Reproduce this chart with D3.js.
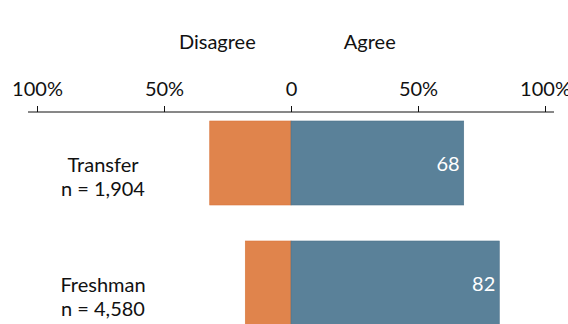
<!DOCTYPE html>
<html>
<head>
<meta charset="utf-8">
<script src="https://cdn.jsdelivr.net/npm/d3@7"></script>
<style>
  html, body { margin: 0; padding: 0; background: #ffffff; }
  svg { display: block; font-family: Lato, "Open Sans", sans-serif; }
</style>
</head>
<body>
<svg id="chart" width="568" height="324"></svg>
<script>
// Survey groups and their sample sizes
const groups = ["Transfer", "Freshman"];
const sampleSizes = ["1,904", "4,580"];
// Share of respondents (%) on each side of the scale
const disagreeValues = [32, 18];
const agreeValues = [68, 82];
// Axis tick positions and the side headings
const tickValues = [-100, -50, 0, 50, 100];
const sideLabels = ["Disagree", "Agree"];

const orange = "#e0844c";
const blue = "#5a8199";

const svg = d3.select("#chart");

const x = d3.scaleLinear().domain([-100, 100]).range([37, 545]);
const y = d3.scaleBand().domain(groups).range([103, 343])
  .paddingInner(0.3).paddingOuter(0.15);

// Side headings above the axis
svg.append("g").selectAll("text")
  .data(sideLabels)
  .join("text")
  .attr("x", (d, i) => i === 0 ? x(-29) : x(31))
  .attr("y", 49)
  .attr("text-anchor", "middle")
  .attr("font-size", 20)
  .attr("fill", "#111")
  .text(d => d);

// Percentage axis along the top
const axis = d3.axisTop(x)
  .tickValues(tickValues)
  .tickSize(6)
  .tickSizeOuter(0)
  .tickPadding(10)
  .tickFormat(d => d === 0 ? "0" : Math.abs(d) + "%");

const axisG = svg.append("g")
  .attr("transform", "translate(0,112)")
  .call(axis);
axisG.select(".domain").remove();
axisG.append("line")
  .attr("x1", 28).attr("x2", 554)
  .attr("stroke", "#111").attr("stroke-width", 1);
axisG.selectAll(".tick line").attr("stroke", "#111");
axisG.selectAll(".tick text")
  .attr("font-size", 20)
  .attr("font-family", "Lato, 'Open Sans', sans-serif")
  .attr("fill", "#111");

// Diverging bars
const rows = groups.map((g, i) => ({
  group: g, n: sampleSizes[i], disagree: disagreeValues[i], agree: agreeValues[i]
}));

const barG = svg.append("g");
barG.selectAll("rect.disagree")
  .data(rows)
  .join("rect")
  .attr("class", "disagree")
  .attr("x", d => x(-d.disagree))
  .attr("y", d => y(d.group))
  .attr("width", d => x(0) - x(-d.disagree))
  .attr("height", y.bandwidth())
  .attr("fill", orange)
  .attr("stroke", "#d9773c")
  .attr("stroke-width", 0.6);

barG.selectAll("rect.agree")
  .data(rows)
  .join("rect")
  .attr("class", "agree")
  .attr("x", x(0))
  .attr("y", d => y(d.group))
  .attr("width", d => x(d.agree) - x(0))
  .attr("height", y.bandwidth())
  .attr("fill", blue)
  .attr("stroke", "#4d738b")
  .attr("stroke-width", 0.6);

// Agree values printed inside the bar ends
barG.selectAll("text.value")
  .data(rows)
  .join("text")
  .attr("class", "value")
  .attr("x", d => x(d.agree) - 4)
  .attr("y", d => y(d.group) + y.bandwidth() / 2 + 8)
  .attr("text-anchor", "end")
  .attr("font-size", 20)
  .attr("fill", "#ffffff")
  .text(d => d.agree);

// Group names with sample sizes
const labelG = svg.append("g");
labelG.selectAll("text.group")
  .data(rows)
  .join("text")
  .attr("class", "group")
  .attr("x", 103)
  .attr("y", d => y(d.group) + 51)
  .attr("text-anchor", "middle")
  .attr("font-size", 20)
  .attr("fill", "#111")
  .text(d => d.group);

labelG.selectAll("text.n")
  .data(rows)
  .join("text")
  .attr("class", "n")
  .attr("x", 103)
  .attr("y", d => y(d.group) + 75)
  .attr("text-anchor", "middle")
  .attr("font-size", 20)
  .attr("fill", "#111")
  .text(d => "n = " + d.n);
</script>
</body>
</html>
